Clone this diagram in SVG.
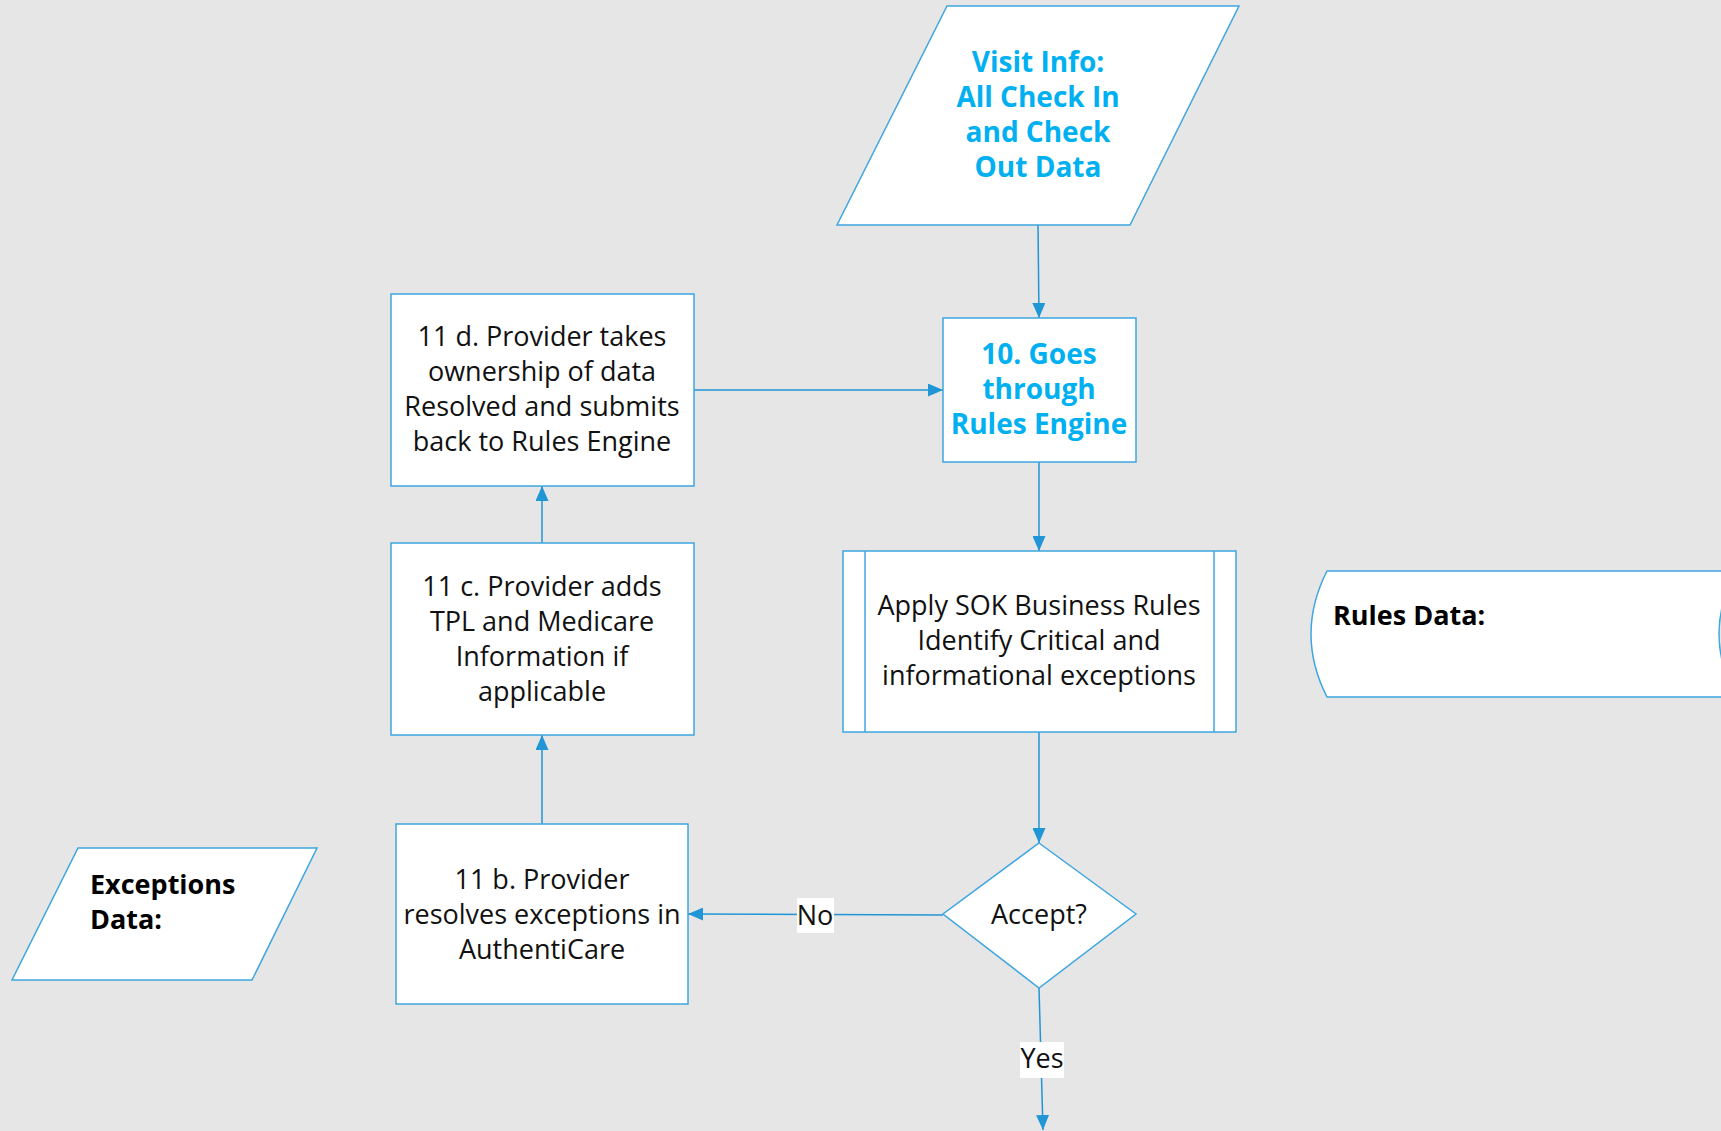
<svg xmlns="http://www.w3.org/2000/svg" width="1721" height="1131" viewBox="0 0 1721 1131">
<style>
.shape{fill:#ffffff;stroke:#3ea6e0;stroke-width:1.5}
.conn{fill:none;stroke:#2196d6;stroke-width:1.5}
.t{font-family:"Open Sans","Noto Sans","Liberation Sans",sans-serif;font-size:27px;fill:#111111;text-anchor:middle}
.tb{font-family:"Open Sans","Noto Sans","Liberation Sans",sans-serif;font-size:28px;font-weight:bold;fill:#00b0f0;text-anchor:middle}
.tk{font-family:"Open Sans","Noto Sans","Liberation Sans",sans-serif;font-size:27px;font-weight:bold;fill:#000000}
.lbl{fill:#ffffff}
</style>
<defs>
<marker id="arr" markerUnits="userSpaceOnUse" markerWidth="15" markerHeight="13" refX="15" refY="6.5" orient="auto">
<path d="M0,0 L15,6.5 L0,13 Z" fill="#2196d6"/>
</marker>
</defs>
<rect width="1721" height="1131" fill="#e6e6e6"/>

<g id="connectors">
<path class="conn" d="M1038,225 L1039,318" marker-end="url(#arr)"/>
<path class="conn" d="M694,390 L943,390" marker-end="url(#arr)"/>
<path class="conn" d="M1039,462 L1039,551" marker-end="url(#arr)"/>
<path class="conn" d="M1039,732 L1039,843" marker-end="url(#arr)"/>
<path class="conn" d="M542,543 L542,486" marker-end="url(#arr)"/>
<path class="conn" d="M542,824 L542,735" marker-end="url(#arr)"/>
<path class="conn" d="M943,915 L688,914" marker-end="url(#arr)"/>
<path class="conn" d="M1039,988 L1043,1130" marker-end="url(#arr)"/>
<g id="label-no">
<rect class="lbl" x="797" y="898" width="37" height="35"/>
<text class="t" x="815" y="925">No</text>
</g>
<g id="label-yes">
<rect class="lbl" x="1020" y="1042" width="44" height="36"/>
<text class="t" x="1042" y="1068">Yes</text>
</g>
</g>

<g id="visit-info">
<path class="shape" d="M947,6 L1239,6 L1130,225 L837,225 Z"/>
<text class="tb" x="1038" y="72">Visit Info:</text>
<text class="tb" x="1038" y="107">All Check In</text>
<text class="tb" x="1038" y="142">and Check</text>
<text class="tb" x="1038" y="177">Out Data</text>
</g>

<g id="rules-engine">
<rect class="shape" x="943" y="318" width="193" height="144"/>
<text class="tb" x="1039" y="364">10. Goes</text>
<text class="tb" x="1039" y="399">through</text>
<text class="tb" x="1039" y="434">Rules Engine</text>
</g>

<g id="step-11d">
<rect class="shape" x="391" y="294" width="303" height="192"/>
<text class="t" x="542" y="346">11 d. Provider takes</text>
<text class="t" x="542" y="381">ownership of data</text>
<text class="t" x="542" y="416">Resolved and submits</text>
<text class="t" x="542" y="451">back to Rules Engine</text>
</g>

<g id="step-11c">
<rect class="shape" x="391" y="543" width="303" height="192"/>
<text class="t" x="542" y="596">11 c. Provider adds</text>
<text class="t" x="542" y="631">TPL and Medicare</text>
<text class="t" x="542" y="666">Information if</text>
<text class="t" x="542" y="701">applicable</text>
</g>

<g id="apply-rules">
<rect class="shape" x="843" y="551" width="393" height="181"/>
<line class="shape" x1="865" y1="551" x2="865" y2="732"/>
<line class="shape" x1="1214" y1="551" x2="1214" y2="732"/>
<text class="t" x="1039" y="615">Apply SOK Business Rules</text>
<text class="t" x="1039" y="650">Identify Critical and</text>
<text class="t" x="1039" y="685">informational exceptions</text>
</g>

<g id="rules-data">
<path class="shape" d="M1327,571 L1736,571 Q1702,634 1736,697 L1327,697 Q1295,634 1327,571 Z"/>
<text class="tk" x="1333" y="625">Rules Data:</text>
</g>

<g id="accept">
<path class="shape" d="M1039,843 L1136,914 L1039,988 L943,914 Z"/>
<text class="t" x="1039" y="924">Accept?</text>
</g>

<g id="step-11b">
<rect class="shape" x="396" y="824" width="292" height="180"/>
<text class="t" x="542" y="889">11 b. Provider</text>
<text class="t" x="542" y="924">resolves exceptions in</text>
<text class="t" x="542" y="959">AuthentiCare</text>
</g>

<g id="exceptions-data">
<path class="shape" d="M78,848 L317,848 L252,980 L12,980 Z"/>
<text class="tk" x="90" y="894">Exceptions</text>
<text class="tk" x="90" y="929">Data:</text>
</g>
</svg>
